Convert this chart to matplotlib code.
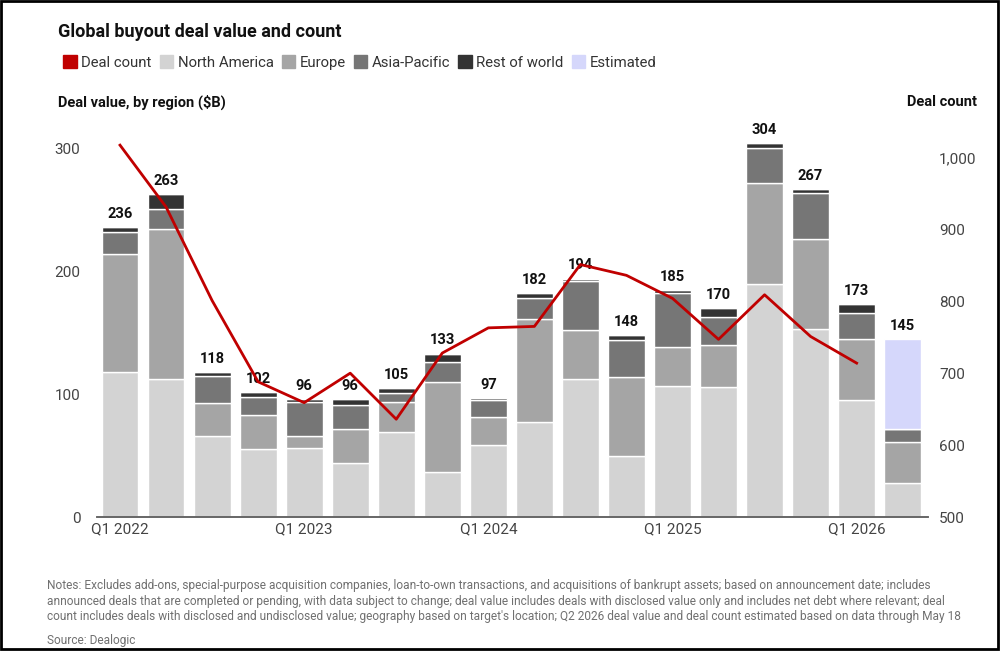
import matplotlib.pyplot as plt
from matplotlib.patches import Patch, Rectangle
import numpy as np

plt.rcParams["font.family"] = ["Roboto", "DejaVu Sans"]

quarters = ["Q1 2022", "Q2 2022", "Q3 2022", "Q4 2022",
            "Q1 2023", "Q2 2023", "Q3 2023", "Q4 2023",
            "Q1 2024", "Q2 2024", "Q3 2024", "Q4 2024",
            "Q1 2025", "Q2 2025", "Q3 2025", "Q4 2025",
            "Q1 2026", "Q2 2026"]
north_america = [118, 112, 66, 55, 56, 44, 69, 37, 59, 77, 112, 50, 107, 106, 190, 153, 95, 28]
europe = [96, 122, 27, 28, 10, 28, 25, 73, 22, 84, 40, 64, 31, 34, 82, 73, 50, 33]
asia_pacific = [18, 17, 22, 15, 28, 19, 7, 16, 14, 17, 40, 30, 44, 23, 28, 38, 21, 11]
rest_of_world = [4, 12, 3, 4, 2, 5, 4, 7, 2, 4, 2, 4, 3, 7, 4, 3, 7, 0]
estimated = [0, 0, 0, 0, 0, 0, 0, 0, 0, 0, 0, 0, 0, 0, 0, 0, 0, 73]
totals = [236, 263, 118, 102, 96, 96, 105, 133, 97, 182, 194, 148, 185, 170, 304, 267, 173, 145]
deal_count = [1017, 931, 801, 688, 659, 700, 636, 728, 763, 765, 851, 836, 804, 747, 809, 751, 714]

c_na = "#d3d3d3"
c_eu = "#a5a5a5"
c_ap = "#767676"
c_rw = "#333333"
c_est = "#d5d7fb"
c_line = "#c00000"

fig = plt.figure(figsize=(10, 6.52), dpi=100)
ax = fig.add_axes([0.097, 0.207, 0.831, 0.593])
ax2 = ax.twinx()

x = np.arange(len(quarters))
bottom = np.zeros(len(quarters))
for vals, col in [(north_america, c_na), (europe, c_eu), (asia_pacific, c_ap),
                  (rest_of_world, c_rw), (estimated, c_est)]:
    v = np.array(vals, dtype=float)
    ax.bar(x, v, 0.8, bottom=bottom, color=col, edgecolor="white", linewidth=1.0, zorder=2)
    bottom += v

for i, t in enumerate(totals):
    ax.text(x[i], t + 5, str(t), ha="center", va="bottom", fontsize=10.5,
            fontweight="bold", color="#111111")

ax2.plot(x[:len(deal_count)], deal_count, color=c_line, linewidth=2, zorder=3)

ax.set_xlim(-0.5, 17.55)
ax.set_ylim(0, 314.6)
ax2.set_ylim(500, 1037.5)
ax.set_yticks([0, 100, 200, 300])
ax2.set_yticks([500, 600, 700, 800, 900, 1000])
ax2.set_yticklabels(["500", "600", "700", "800", "900", "1,000"])
ax.set_xticks([0, 4, 8, 12, 16])
ax.set_xticklabels(["Q1 2022", "Q1 2023", "Q1 2024", "Q1 2025", "Q1 2026"])

for a in (ax, ax2):
    for s in ["top", "left", "right"]:
        a.spines[s].set_visible(False)
    a.spines["bottom"].set_color("#666666")
    a.spines["bottom"].set_linewidth(1.2)
    a.tick_params(length=0, labelsize=11, labelcolor="#444444")
ax.tick_params(axis="y", pad=12)
ax2.tick_params(axis="y", pad=8)
ax.tick_params(axis="x", pad=4)

fig.text(0.058, 0.951, "Global buyout deal value and count", fontsize=13,
         fontweight="bold", color="#111111", va="center")
fig.text(0.058, 0.843, "Deal value, by region ($B)", fontsize=10.5,
         fontweight="bold", color="#111111", va="center")
fig.text(0.977, 0.843, "Deal count", fontsize=10.5, fontweight="bold",
         color="#111111", va="center", ha="right")

handles = [Patch(color=c_line, label="Deal count"),
           Patch(color=c_na, label="North America"),
           Patch(color=c_eu, label="Europe"),
           Patch(color=c_ap, label="Asia-Pacific"),
           Patch(color=c_rw, label="Rest of world"),
           Patch(color=c_est, label="Estimated")]
fig.legend(handles=handles, loc="center left", bbox_to_anchor=(0.05, 0.904), ncol=6,
           frameon=False, fontsize=10.7, handlelength=0.9, handleheight=0.9,
           handletextpad=0.3, columnspacing=0.55, labelcolor="#333333")

notes = ("Notes: Excludes add-ons, special-purpose acquisition companies, loan-to-own transactions, and acquisitions of bankrupt assets; based on announcement date; includes\n"
         "announced deals that are completed or pending, with data subject to change; deal value includes deals with disclosed value only and includes net debt where relevant; deal\n"
         "count includes deals with disclosed and undisclosed value; geography based on target's location; Q2 2026 deal value and deal count estimated based on data through May 18")
fig.text(0.047, 0.078, notes, fontsize=8.55, color="#707070",
         va="center", linespacing=1.27)
fig.text(0.047, 0.017, "Source: Dealogic", fontsize=8.55, color="#707070", va="center")

fig.patches.append(Rectangle((0.001, 0.004), 0.997, 0.994, transform=fig.transFigure,
                             fill=False, edgecolor="black", linewidth=2))

fig.savefig("out.png", dpi=100)
